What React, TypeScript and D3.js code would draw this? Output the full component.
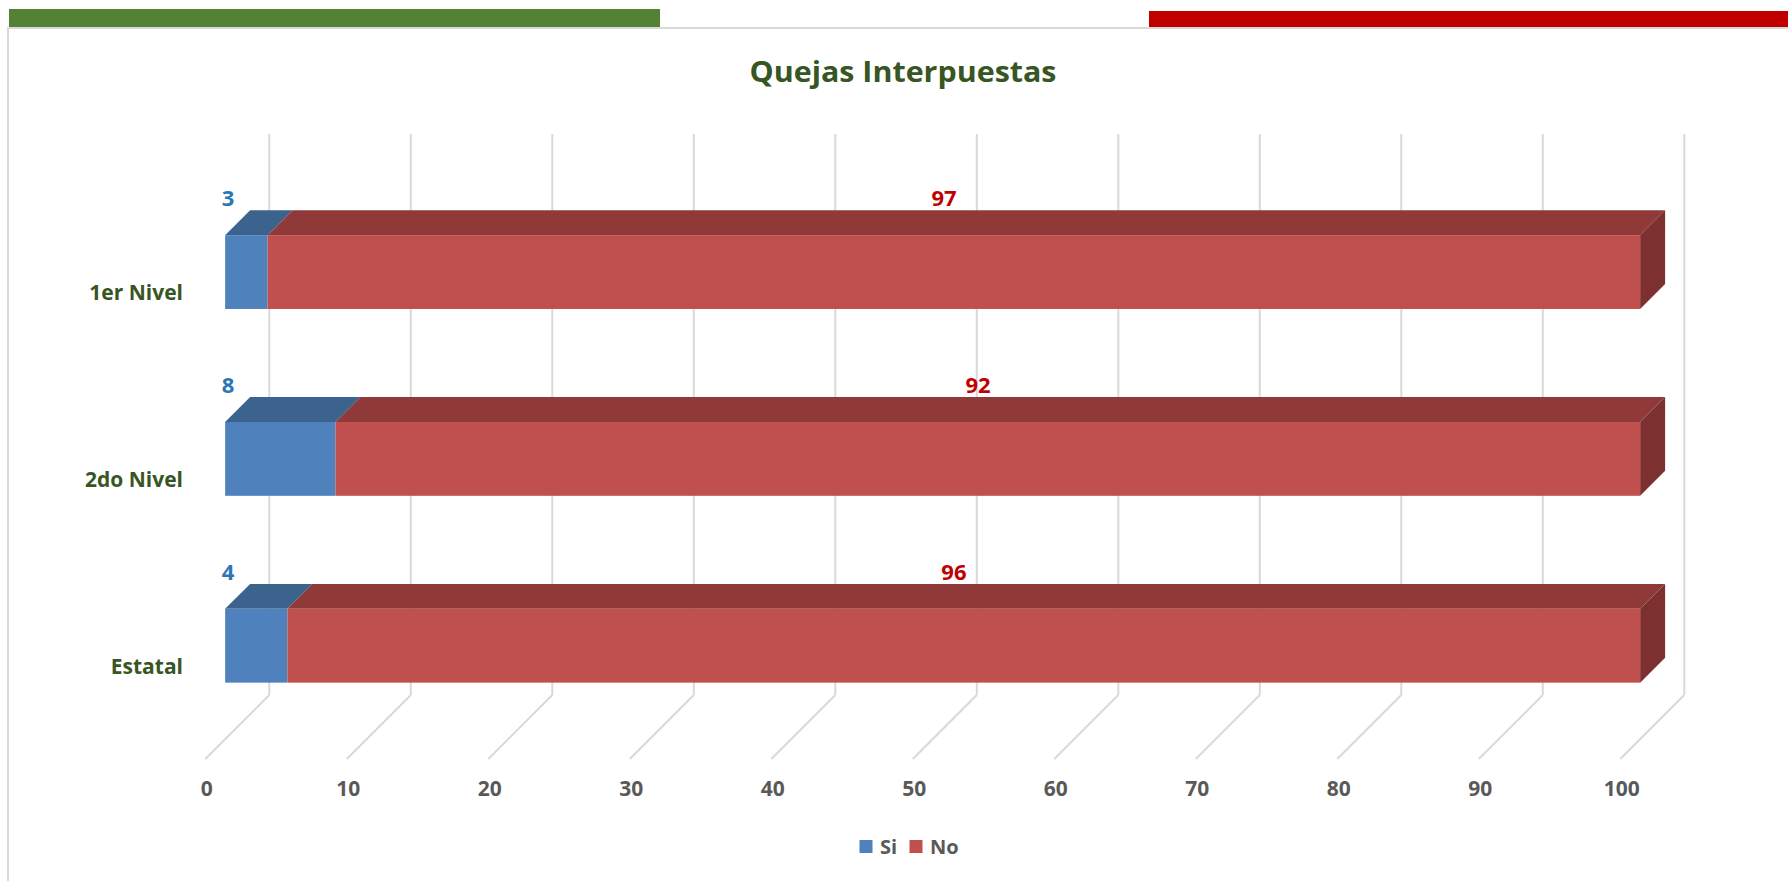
import React from "react";
import * as d3 from "d3";

const categories = ["1er Nivel", "2do Nivel", "Estatal"];
const siValues = [3.0, 7.8, 4.4];
const noValues = [97.0, 92.2, 95.6];
const seriesNames = ["Si", "No"];
const xTicks = [0, 10, 20, 30, 40, 50, 60, 70, 80, 90, 100];

const W = 1788;
const H = 881;
const DEPTH = 64; // oblique depth offset (px)
const D0 = 0.31; // bar front depth fraction
const D1 = 0.7; // bar back depth fraction
const FLOOR_Y = 759;
const WALL_TOP = 134;

const colors = {
  siFront: "#4F81BD",
  siTop: "#3C628E",
  siSide: "#324F73",
  noFront: "#C0504D",
  noTop: "#8F3A39",
  noSide: "#7C302F",
  grid: "#D9D9D9",
  green: "#375623",
  gray: "#595959",
  siLabel: "#2E75B6",
  noLabel: "#C00000",
};

const FONT = "'Open Sans', 'Noto Sans', sans-serif";
const fmt = d3.format(".0f");

export default function App() {
  const x = d3.scaleLinear().domain([0, 100]).range([205.3, 1620.3]);
  const y = d3
    .scaleBand<string>()
    .domain(categories)
    .range([198.5, FLOOR_Y])
    .paddingInner(0.605)
    .paddingOuter(0.3025);
  const bw = y.bandwidth();

  const pt = (px: number, py: number, d: number) => [px + d * DEPTH, py - d * DEPTH];
  const poly = (pts: number[][]) => pts.map((p) => p.join(",")).join(" ");

  const segs: any[] = [];
  categories.forEach((c, i) => {
    const y0 = y(c)!;
    const y1 = y0 + bw;
    const parts = [
      { a: 0, b: siValues[i], f: colors.siFront, t: colors.siTop, s: colors.siSide, last: false },
      { a: siValues[i], b: siValues[i] + noValues[i], f: colors.noFront, t: colors.noTop, s: colors.noSide, last: true },
    ];
    parts.forEach((p, j) => {
      const xa = x(p.a);
      const xb = x(p.b);
      const fa = pt(xa, y0, D0);
      const fb = pt(xb, y0, D0);
      const ba = pt(xa, y0, D1);
      const bb = pt(xb, y0, D1);
      const fbb = pt(xb, y1, D0);
      const bbb = pt(xb, y1, D1);
      segs.push(
        <g key={`${i}-${j}`}>
          <polygon points={poly([fa, fb, bb, ba])} fill={p.t} />
          {p.last && <polygon points={poly([fb, bb, bbb, fbb])} fill={p.s} />}
          <rect x={fa[0]} y={fa[1]} width={xb - xa} height={bw} fill={p.f} />
        </g>
      );
    });
  });

  return (
    <svg
      width={W}
      height={H}
      style={{ position: "absolute", left: 0, top: 0, background: "#fff" }}
    >
      {/* page decorations */}
      <rect x={9} y={9} width={651} height={18} fill="#548235" />
      <rect x={1149} y={11} width={W - 1149} height={16} fill="#C00000" />
      <line x1={8} y1={28} x2={W} y2={28} stroke={colors.grid} strokeWidth={2} />
      <line x1={8} y1={27} x2={8} y2={H} stroke={colors.grid} strokeWidth={2} />

      {/* title */}
      <text
        x={903}
        y={82}
        textAnchor="middle"
        fontFamily={FONT}
        fontWeight="bold"
        fontSize={29}
        fill={colors.green}
        textLength={307}
        lengthAdjust="spacingAndGlyphs"
      >
        Quejas Interpuestas
      </text>

      {/* back wall gridlines & floor lines */}
      {xTicks.map((t) => (
        <g key={t}>
          <line
            x1={x(t) + DEPTH}
            x2={x(t) + DEPTH}
            y1={WALL_TOP}
            y2={FLOOR_Y - DEPTH}
            stroke={colors.grid}
            strokeWidth={2}
          />
          <line
            x1={x(t) + DEPTH}
            y1={FLOOR_Y - DEPTH}
            x2={x(t)}
            y2={FLOOR_Y}
            stroke={colors.grid}
            strokeWidth={2}
          />
          <text
            x={x(t) + 1.4}
            y={789}
            dy="0.35em"
            textAnchor="middle"
            fontFamily={FONT}
            fontWeight="bold"
            fontSize={21}
            fill={colors.gray}
          >
            {t}
          </text>
        </g>
      ))}

      {/* bars */}
      {segs}

      {/* category labels */}
      {categories.map((c) => (
        <text
          key={c}
          x={183}
          y={y(c)! + bw / 2 + 1}
          dy="0.35em"
          textAnchor="end"
          fontFamily={FONT}
          fontWeight="bold"
          fontSize={21}
          fill={colors.green}
        >
          {c}
        </text>
      ))}

      {/* data labels */}
      {categories.map((c, i) => {
        const yTop = y(c)! - D1 * DEPTH - 12;
        return (
          <g key={c}>
            <text
              x={x(0) + D0 * DEPTH + 3}
              y={yTop}
              dy="0.35em"
              textAnchor="middle"
              fontFamily={FONT}
              fontWeight="bold"
              fontSize={22}
              fill={colors.siLabel}
            >
              {fmt(siValues[i])}
            </text>
            <text
              x={x(siValues[i] + noValues[i] / 2) + 10}
              y={yTop}
              dy="0.35em"
              textAnchor="middle"
              fontFamily={FONT}
              fontWeight="bold"
              fontSize={22}
              fill={colors.noLabel}
            >
              {fmt(noValues[i])}
            </text>
          </g>
        );
      })}

      {/* legend */}
      {seriesNames.map((s, i) => {
        const lx = [859.5, 909.5][i];
        return (
          <g key={s}>
            <rect x={lx} y={840} width={13} height={13} fill={i === 0 ? colors.siFront : colors.noFront} />
            <text
              x={lx + 20.5}
              y={847}
              dy="0.35em"
              fontFamily={FONT}
              fontWeight="bold"
              fontSize={20}
              fill={colors.gray}
            >
              {s}
            </text>
          </g>
        );
      })}
    </svg>
  );
}
